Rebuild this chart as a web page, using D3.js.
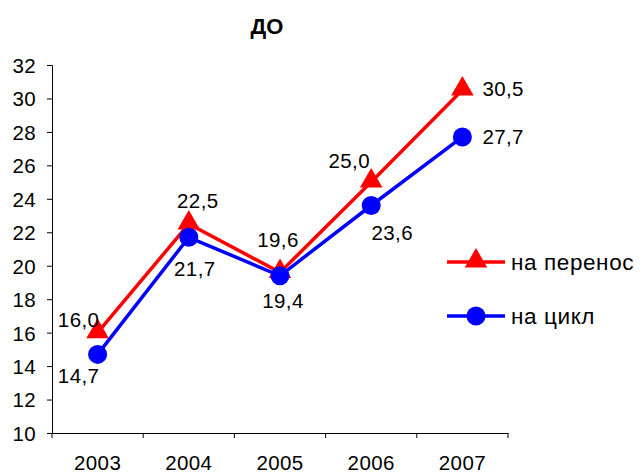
<!DOCTYPE html>
<html>
<head>
<meta charset="utf-8">
<script src="https://cdn.jsdelivr.net/npm/d3@7"></script>
<style>
  html, body { margin: 0; padding: 0; background: #fff; }
  svg { display: block; font-family: "Liberation Sans", Arial, sans-serif; }
</style>
</head>
<body>
<div id="chart"></div>
<script>
// data
var years = ['2003', '2004', '2005', '2006', '2007'];
var perenos = [16.0, 22.5, 19.6, 25.0, 30.5];   // на перенос
var cikl = [14.7, 21.7, 19.4, 23.6, 27.7];      // на цикл
var yTicks = [10, 12, 14, 16, 18, 20, 22, 24, 26, 28, 30, 32];
var seriesNames = ['на перенос', 'на цикл'];

var width = 643, height = 473;
var svg = d3.select('#chart').append('svg')
    .attr('width', width)
    .attr('height', height);

var x = d3.scaleBand().domain(years).range([52, 508]);
var y = d3.scaleLinear().domain([10, 32]).range([433, 65]);
var fmt = function (v) { return d3.format('.1f')(v).replace('.', ','); };
var fs = 20.5;

// title
svg.append('text')
    .attr('x', 267).attr('y', 34)
    .attr('text-anchor', 'middle')
    .attr('font-size', 22).attr('font-weight', 'bold')
    .text('ДО');

// axes
var yAxis = svg.append('g')
    .attr('transform', 'translate(52,0)')
    .call(d3.axisLeft(y).tickValues(yTicks).tickSize(5).tickPadding(11).tickFormat(d3.format('d')));
var xAxis = svg.append('g')
    .attr('transform', 'translate(0,433)')
    .call(d3.axisBottom(x).tickSize(0).tickPadding(22));
xAxis.selectAll('.tick')
    .append('line')
    .attr('x1', -x.bandwidth() / 2).attr('x2', -x.bandwidth() / 2)
    .attr('y1', 0).attr('y2', 5)
    .attr('stroke', '#000');
xAxis.append('line')
    .attr('x1', 508).attr('x2', 508).attr('y1', 0).attr('y2', 5)
    .attr('stroke', '#000');
[yAxis, xAxis].forEach(function (g) {
    g.select('.domain').attr('stroke', '#000').attr('stroke-width', 1);
    g.selectAll('.tick line').attr('stroke', '#000');
    g.selectAll('text').attr('font-size', fs).attr('fill', '#000')
        .attr('font-family', '"Liberation Sans", Arial, sans-serif')
        .attr('letter-spacing', 0.4);
});
yAxis.selectAll('text').attr('dy', '0.36em');

var cx = function (d, i) { return x(years[i]) + x.bandwidth() / 2; };
var line = d3.line()
    .x(function (d, i) { return cx(d, i); })
    .y(function (d) { return y(d); });

var tri = d3.symbol().type(d3.symbolTriangle).size(220);

// label offsets (dx, dy, anchor) as placed in the reference
var redLab = [[-19, -6, 'middle'], [9, -16, 'middle'], [-2, -25, 'middle'], [-22, -14, 'middle'], [20, 6, 'start']];
var blueLab = [[-19, 29, 'middle'], [6, 39, 'middle'], [3, 32, 'middle'], [21, 34, 'middle'], [20, 7, 'start']];

function drawSeries(vals, color, marker, labs) {
    svg.append('path')
        .datum(vals)
        .attr('d', line)
        .attr('fill', 'none')
        .attr('stroke', color)
        .attr('stroke-width', 3.5);
    var m = svg.append('g').selectAll('.m').data(vals).enter();
    if (marker === 'tri') {
        m.append('path')
            .attr('d', tri)
            .attr('transform', function (d, i) { return 'translate(' + cx(d, i) + ',' + (y(d) - 1) + ')'; })
            .attr('fill', color);
    } else {
        m.append('circle')
            .attr('cx', cx).attr('cy', function (d) { return y(d); })
            .attr('r', 9.5)
            .attr('fill', color);
    }
    svg.append('g').selectAll('text').data(vals).enter().append('text')
        .attr('x', function (d, i) { return cx(d, i) + labs[i][0]; })
        .attr('y', function (d, i) { return y(d) + labs[i][1]; })
        .attr('text-anchor', function (d, i) { return labs[i][2]; })
        .attr('font-size', fs)
        .attr('letter-spacing', 0.4)
        .text(fmt);
}

drawSeries(perenos, '#ff0000', 'tri', redLab);
drawSeries(cikl, '#0000ff', 'circle', blueLab);

// legend
var legend = svg.append('g');
[['#ff0000', 'tri', 262], ['#0000ff', 'circle', 316]].forEach(function (l, i) {
    var g = legend.append('g').attr('transform', 'translate(0,' + l[2] + ')');
    g.append('line').attr('x1', 447).attr('x2', 505).attr('y1', 0).attr('y2', 0)
        .attr('stroke', l[0]).attr('stroke-width', 3.5);
    if (l[1] === 'tri') {
        g.append('path').attr('d', tri).attr('transform', 'translate(476,-1)').attr('fill', l[0]);
    } else {
        g.append('circle').attr('cx', 476).attr('cy', 0).attr('r', 9.5).attr('fill', l[0]);
    }
    g.append('text').attr('x', 511).attr('y', 0).attr('dy', '0.36em')
        .attr('font-size', 22.5).attr('letter-spacing', 0.6)
        .text(seriesNames[i]);
});
</script>
</body>
</html>
